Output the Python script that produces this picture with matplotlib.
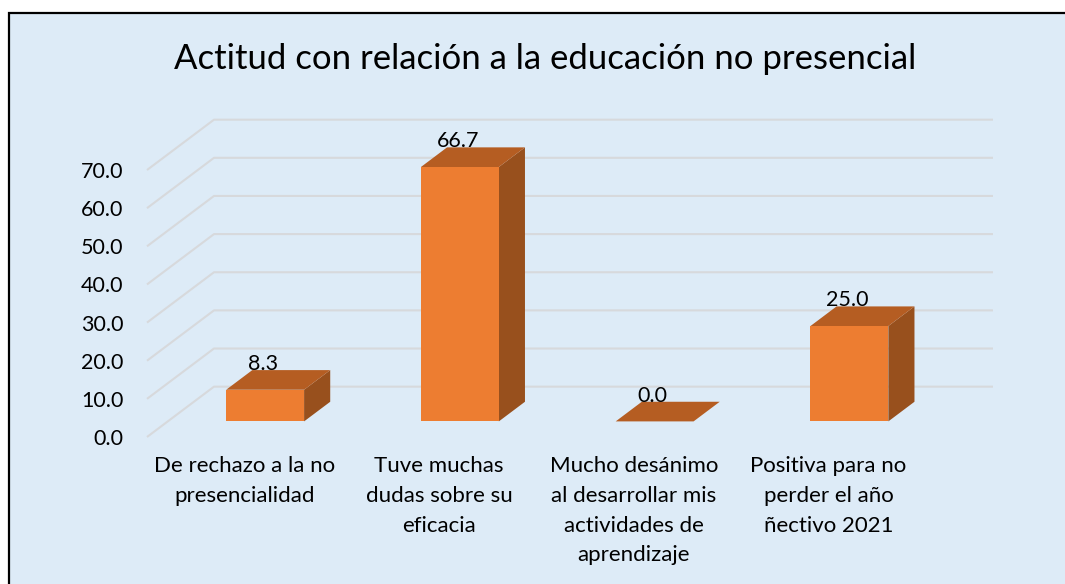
import matplotlib
matplotlib.use("Agg")
import matplotlib.pyplot as plt
from matplotlib.patches import Polygon, Rectangle

plt.rcParams["font.family"] = ["Lato", "DejaVu Sans"]

# data
categories = [
    "De rechazo a la no\npresencialidad",
    "Tuve muchas\ndudas sobre su\neficacia",
    "Mucho desánimo\nal desarrollar mis\nactividades de\naprendizaje",
    "Positiva para no\nperder el año\nñectivo 2021",
]
values = [8.3, 66.7, 0.0, 25.0]
yticks = [0, 10, 20, 30, 40, 50, 60, 70]
title = "Actitud con relación a la educación no presencial"

# pseudo 3d geometry (data units)
DX = 0.344      # depth shift along x, in category units
DY = 13.2       # depth shift along y, in value units
F0, F1 = 0.31, 0.70   # bar front / back depth fractions
BAR_W = 0.40

BG = "#DDEBF7"
FRONT = "#ED7D31"
TOP = "#B55D22"
SIDE = "#98501D"
GRID = "#D7D9DC"

W, H, DPI = 1065, 584, 100
fig = plt.figure(figsize=(W / DPI, H / DPI), dpi=DPI)
fig.patch.set_facecolor("white")

# chart area with black border (only top/left inside the picture)
fig.patches.append(Rectangle((9 / W, -0.5), 2.0, (H - 13) / H + 0.5,
                             transform=fig.transFigure, facecolor=BG,
                             edgecolor="black", linewidth=1.6, zorder=-5))

# axes placement from pixel scale
px_x = 194.75
px_y = 3.814
x0, y0 = 147, 437
xmax = len(categories) + DX
ymax = yticks[-1] + DY
ax = fig.add_axes([x0 / W, (H - y0) / H, xmax * px_x / W, ymax * px_y / H])
ax.set_xlim(0, xmax)
ax.set_ylim(0, ymax)
ax.patch.set_alpha(0)
for s in ax.spines.values():
    s.set_visible(False)

# gridlines: side diagonal + back wall
n = len(categories)
for v in yticks:
    ax.plot([0, DX, n + DX], [v, v + DY, v + DY], color=GRID, lw=1.5,
            zorder=1, clip_on=False, solid_capstyle="butt")

# bars
for i, v in enumerate(values):
    cx = i + 0.5 + F0 * DX
    xl, xr = cx - BAR_W / 2, cx + BAR_W / 2
    yb = F0 * DY
    yt = yb + v
    ddx = (F1 - F0) * DX
    ddy = (F1 - F0) * DY
    side = Polygon([(xr, yb), (xr + ddx, yb + ddy), (xr + ddx, yt + ddy), (xr, yt)],
                   closed=True, facecolor=SIDE, edgecolor="none", zorder=3)
    top = Polygon([(xl, yt), (xr, yt), (xr + ddx, yt + ddy), (xl + ddx, yt + ddy)],
                  closed=True, facecolor=TOP, edgecolor="none", zorder=3)
    ax.add_patch(side)
    ax.add_patch(top)
    if v > 0:
        front = Rectangle((xl, yb), BAR_W, v, facecolor=FRONT, edgecolor="none", zorder=4)
        ax.add_patch(front)
    ax.text(cx - 0.01, yt + ddy, f"{v:.1f}", ha="center", va="baseline",
            fontsize=15.5, color="black", zorder=5)

ax.set_yticks(yticks)
ax.set_yticklabels([f"{t:.1f}" for t in yticks], fontsize=15.5, color="black")
ax.set_xticks([i + 0.5 for i in range(n)])
ax.set_xticklabels(categories, fontsize=16, color="black", linespacing=1.6)
ax.tick_params(axis="y", length=0, pad=17)
ax.tick_params(axis="x", length=0, pad=14)

fig.text(545 / W, (H - 69) / H, title, ha="center", va="baseline",
         fontsize=25, color="black")

fig.savefig("out.png", dpi=DPI, facecolor="white")
